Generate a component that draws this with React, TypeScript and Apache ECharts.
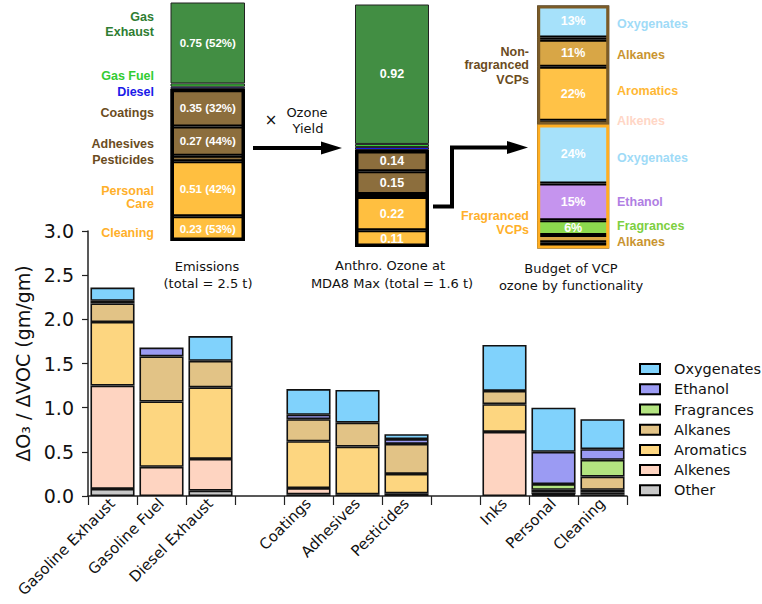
import React, { useEffect, useRef } from 'react';
import * as echarts from 'echarts';

// ---------- Main chart data ----------
const categories = ['Gasoline Exhaust', 'Gasoline Fuel', 'Diesel Exhaust', ' ', 'Coatings', 'Adhesives', 'Pesticides', '  ', 'Inks', 'Personal', 'Cleaning'];
const yTicks = [0, 0.5, 1, 1.5, 2, 2.5, 3];
const other = [0.08, null, 0.06, null, 0.02, 0.02, 0.03, null, null, 0.01, 0.02];
const alkenes = [1.17, 0.33, 0.36, null, 0.07, null, null, null, 0.725, 0.01, 0.02];
const aromatics = [0.72, 0.74, 0.81, null, 0.53, 0.54, 0.22, null, 0.315, 0.02, 0.03];
const alkanes = [0.21, 0.51, 0.3, null, 0.25, 0.27, 0.34, null, 0.15, 0.03, 0.15];
const fragrances = [null, null, null, null, null, null, null, null, null, 0.065, 0.19];
const ethanol = [0.03, 0.1, null, null, 0.05, null, 0.055, null, null, 0.365, 0.12];
const oxygenates = [0.15, null, 0.28, null, 0.29, 0.37, 0.055, null, 0.52, 0.5, 0.34];
const legendOrder = ['Oxygenates', 'Ethanol', 'Fragrances', 'Alkanes', 'Aromatics', 'Alkenes', 'Other'];

// ---------- Top panels data ----------
const sourceNames = ['Gas Exhaust', 'Gas Fuel', 'Diesel', 'Coatings', 'Adhesives', 'Pesticides', 'Personal Care', 'Cleaning'];
const emisValues = [0.75, 0.03, 0.02, 0.35, 0.27, 0.05, 0.51, 0.23];
const emisShares = [52, null, null, 32, 44, null, 42, 53];
const ozoneValues = [0.92, 0.02, 0.02, 0.14, 0.15, 0.02, 0.22, 0.11];
const vcpStart = 3;

const budgetNames = ['Oxygenates', 'Ethanol', 'Alkanes', 'Aromatics', 'Alkenes', 'Oxygenates', 'Ethanol', 'Fragrances', 'Alkanes', 'Aromatics', 'Alkenes'];
const budgetPct = [13, 1, 11, 22, 1.5, 24, 15, 6, 3, 1.5, 1];
const fragrancedStart = 5;

// ---------- Styles ----------
const mainColors: Record<string, string> = {
  Other: '#C8C8C8',
  Alkenes: '#FED4C1',
  Aromatics: '#FDD680',
  Alkanes: '#E2C386',
  Fragrances: '#B3E480',
  Ethanol: '#9B9BF3',
  Oxygenates: '#80D2FC',
};
const sourceColors = ['#428E43', '#3CD33C', '#1C1CE0', '#8C6E3D', '#8C6E3D', '#8C6E3D', '#FFBF40', '#FFBF40'];
const budgetColors: Record<string, string> = {
  Oxygenates: '#A6E1FA',
  Ethanol: '#C594EE',
  Alkanes: '#D8A646',
  Aromatics: '#FFC247',
  Alkenes: '#FFD9C9',
  Fragrances: '#8CD94E',
};

const sum = (a: number[]) => a.reduce((s, v) => s + v, 0);

function buildOption() {
  const mainSeriesData: [string, (number | null)[]][] = [
    ['Other', other],
    ['Alkenes', alkenes],
    ['Aromatics', aromatics],
    ['Alkanes', alkanes],
    ['Fragrances', fragrances],
    ['Ethanol', ethanol],
    ['Oxygenates', oxygenates],
  ];
  const series: any[] = mainSeriesData.map(([name, data]) => ({
    name,
    type: 'bar',
    stack: 'main',
    xAxisIndex: 0,
    yAxisIndex: 0,
    barWidth: '90%',
    data: data.map((v) => (v == null ? '-' : v)),
    itemStyle: { color: mainColors[name], borderColor: '#111', borderWidth: 1.6 },
    silent: true,
  }));

  const inBarLabel = (show: boolean, text: string, size = 12.5) => ({
    show,
    position: 'inside',
    formatter: text,
    color: '#fff',
    fontWeight: 'bold',
    fontSize: size,
    fontFamily: '"Liberation Sans", Arial, sans-serif',
  });

  const panel = (axis: number, key: string, values: number[], labelFn: (i: number) => any) => {
    values.forEach((v, i) => {
      series.push({
        name: `${key}-${sourceNames[i]}`,
        type: 'bar',
        stack: key,
        xAxisIndex: axis,
        yAxisIndex: axis,
        barWidth: '100%',
        barGap: '-100%',
        data: [v],
        silent: true,
        itemStyle: {
          color: sourceColors[i],
          borderColor: i < vcpStart ? '#222' : '#000',
          borderWidth: i < vcpStart ? 1 : 2,
        },
        label: labelFn(i),
      });
    });
    const totals = [sum(values.slice(0, vcpStart)), sum(values.slice(vcpStart))];
    totals.forEach((t, k) => {
      series.push({
        name: `${key}-frame-${k}`,
        type: 'bar',
        stack: key + '-frame',
        xAxisIndex: axis,
        yAxisIndex: axis,
        barWidth: '100%',
        barGap: '-100%',
        z: 3,
        data: [t],
        silent: true,
        itemStyle: k === 0
          ? { color: 'transparent', borderWidth: 0 }
          : { color: 'transparent', borderColor: '#000', borderWidth: 3.5 },
      });
    });
  };

  panel(1, 'emis', emisValues, (i) =>
    inBarLabel(emisShares[i] != null, `${emisValues[i].toFixed(2)} (${emisShares[i]}%)`, 11.5)
  );
  panel(2, 'ozone', ozoneValues, (i) => inBarLabel(ozoneValues[i] >= 0.1, ozoneValues[i].toFixed(2)));

  budgetNames.forEach((n, i) => {
    series.push({
      name: `budget-${i}`,
      type: 'bar',
      stack: 'budget',
      xAxisIndex: 3,
      yAxisIndex: 3,
      barWidth: '100%',
      barGap: '-100%',
      data: [budgetPct[i]],
      silent: true,
      itemStyle: { color: budgetColors[n], borderColor: '#000', borderWidth: 2 },
      label: inBarLabel(budgetPct[i] >= 5, `${budgetPct[i]}%`),
    });
  });
  const budgetTotals = [sum(budgetPct.slice(0, fragrancedStart)), sum(budgetPct.slice(fragrancedStart))];
  const frameColors = ['#7B5B27', '#FFAE22'];
  budgetTotals.forEach((t, k) => {
    series.push({
      name: `budget-frame-${k}`,
      type: 'bar',
      stack: 'budget-frame',
      xAxisIndex: 3,
      yAxisIndex: 3,
      barWidth: '100%',
      barGap: '-100%',
      z: 3,
      data: [t],
      silent: true,
      itemStyle: { color: 'transparent', borderColor: frameColors[k], borderWidth: 3 },
    });
  });

  const panelTotals = [sum(emisValues), sum(ozoneValues), sum(budgetPct)];

  const boldF = 'bold 12.5px "Liberation Sans", Arial, sans-serif';
  const capF = '13px "DejaVu Sans", sans-serif';
  const brown = '#6B4C1E';
  const orange = '#FFB02A';
  const txt = (x: number, y: number, text: string, fill: string, align = 'right', font = boldF) => ({
    type: 'text',
    x,
    y,
    silent: true,
    style: { text, fill, font, align, verticalAlign: 'middle' },
  });

  const graphic: any[] = [
    // panel 1 labels
    txt(154, 17.3, 'Gas', '#2E7D32'),
    txt(154, 32.3, 'Exhaust', '#2E7D32'),
    txt(154, 75.7, 'Gas Fuel', '#33CC33'),
    txt(154, 92.3, 'Diesel', '#1A1AE8'),
    txt(154, 112.7, 'Coatings', brown),
    txt(154, 144, 'Adhesives', brown),
    txt(154, 160.3, 'Pesticides', brown),
    txt(154, 191, 'Personal', orange),
    txt(154, 204.3, 'Care', orange),
    txt(154, 233.3, 'Cleaning', orange),
    // panel 3 left labels
    txt(529, 51.7, 'Non-', brown),
    txt(529, 65, 'fragranced', brown),
    txt(529, 80, 'VCPs', brown),
    txt(529, 216, 'Fragranced', orange),
    txt(529, 230, 'VCPs', orange),
    // panel 3 right labels
    txt(617, 24.3, 'Oxygenates', '#9FDBF7', 'left'),
    txt(617, 55, 'Alkanes', '#C99430', 'left'),
    txt(617, 91, 'Aromatics', '#FFB834', 'left'),
    txt(617, 120.7, 'Alkenes', '#FFD6C6', 'left'),
    txt(617, 157.7, 'Oxygenates', '#9FDBF7', 'left'),
    txt(617, 201.7, 'Ethanol', '#B07EE3', 'left'),
    txt(617, 226, 'Fragrances', '#7DCF3F', 'left'),
    txt(617, 241.7, 'Alkanes', '#C99430', 'left'),
    // captions
    txt(207, 266, 'Emissions', '#111', 'center', capF),
    txt(208, 283, '(total = 2.5 t)', '#111', 'center', capF),
    txt(390, 265, 'Anthro. Ozone at', '#111', 'center', capF),
    txt(392, 283, 'MDA8 Max (total = 1.6 t)', '#111', 'center', capF),
    txt(571, 268, 'Budget of VCP', '#111', 'center', capF),
    txt(571, 285, 'ozone by functionality', '#111', 'center', capF),
    txt(271, 120, '×', '#111', 'center', '15px "DejaVu Sans", sans-serif'),
    txt(307, 112, 'Ozone', '#111', 'center', capF),
    txt(308, 128, 'Yield', '#111', 'center', capF),
    // arrows
    {
      type: 'polyline',
      silent: true,
      shape: { points: [[253, 148], [324, 148]] },
      style: { stroke: '#000', lineWidth: 4, fill: null },
    },
    {
      type: 'polygon',
      silent: true,
      shape: { points: [[321, 141.5], [342, 148], [321, 154.5]] },
      style: { fill: '#000' },
    },
    {
      type: 'polyline',
      silent: true,
      shape: { points: [[433, 206.5], [452, 206.5], [452, 147.5], [510, 147.5]] },
      style: { stroke: '#000', lineWidth: 4, fill: null, lineJoin: 'miter' },
    },
    {
      type: 'polygon',
      silent: true,
      shape: { points: [[507, 141], [528, 147.5], [507, 154]] },
      style: { fill: '#000' },
    },
  ];

  const panelGrids = [
    { left: 170.5, top: 2.5, width: 74.5, height: 238.5, outerBoundsMode: 'none' },
    { left: 355, top: 4.5, width: 74, height: 242.5, outerBoundsMode: 'none' },
    { left: 537.2, top: 5.5, width: 72, height: 243, outerBoundsMode: 'none' },
  ];

  const axisColor = '#222';
  return {
    animation: false,
    backgroundColor: '#fff',
    grid: [
      { left: 88, top: 231, width: 539, height: 265, outerBoundsMode: 'none', containLabel: false },
      ...panelGrids,
    ],
    xAxis: [
      {
        type: 'category',
        gridIndex: 0,
        data: categories,
        axisLine: { lineStyle: { color: axisColor, width: 1.5 } },
        axisTick: { show: true, interval: 0, length: 9, lineStyle: { color: axisColor, width: 1.2 } },
        axisLabel: {
          interval: 0,
          rotate: 45,
          fontSize: 15,
          fontFamily: '"DejaVu Sans", sans-serif',
          color: '#111',
          margin: 5,
        },
      },
      ...panelGrids.map((_, i) => ({ type: 'category', gridIndex: i + 1, data: ['v'], show: false })),
    ],
    yAxis: [
      {
        type: 'value',
        gridIndex: 0,
        min: yTicks[0],
        max: yTicks[yTicks.length - 1],
        interval: yTicks[1] - yTicks[0],
        splitLine: { show: false },
        axisLine: { show: true, lineStyle: { color: axisColor, width: 1.5 } },
        axisTick: { show: true, length: 6, lineStyle: { color: axisColor, width: 1.2 } },
        axisLabel: {
          formatter: (v: number) => v.toFixed(1),
          fontSize: 19,
          fontFamily: '"DejaVu Sans", sans-serif',
          color: '#111',
          margin: 14,
        },
        name: 'ΔO₃ / ΔVOC (gm/gm)',
        nameLocation: 'middle',
        nameGap: 55,
        nameTextStyle: { fontSize: 19, fontFamily: '"DejaVu Sans", sans-serif', color: '#111' },
      },
      ...panelTotals.map((t, i) => ({
        type: 'value',
        gridIndex: i + 1,
        min: 0,
        max: t,
        inverse: true,
        show: false,
      })),
    ],
    legend: {
      data: legendOrder,
      orient: 'vertical',
      left: 634,
      top: 354,
      itemWidth: 20,
      itemHeight: 10,
      itemGap: 0,
      selectedMode: false,
      icon: 'rect',
      itemStyle: { borderColor: '#000', borderWidth: 2 },
      textStyle: {
        fontSize: 14.5,
        fontFamily: '"DejaVu Sans", sans-serif',
        color: '#111',
        lineHeight: 20.2,
        padding: [0, 0, 0, 9],
        overflow: 'none',
      },
    },
    series,
    graphic,
  };
}

export default function App() {
  const ref = useRef<HTMLDivElement>(null);
  useEffect(() => {
    if (!ref.current) return;
    const chart = echarts.init(ref.current, undefined, { renderer: 'svg' });
    chart.setOption(buildOption() as any);
    return () => chart.dispose();
  }, []);
  return (
    <div
      ref={ref}
      style={{ position: 'fixed', left: 0, top: 0, width: 762, height: 604, background: '#fff' }}
    />
  );
}
